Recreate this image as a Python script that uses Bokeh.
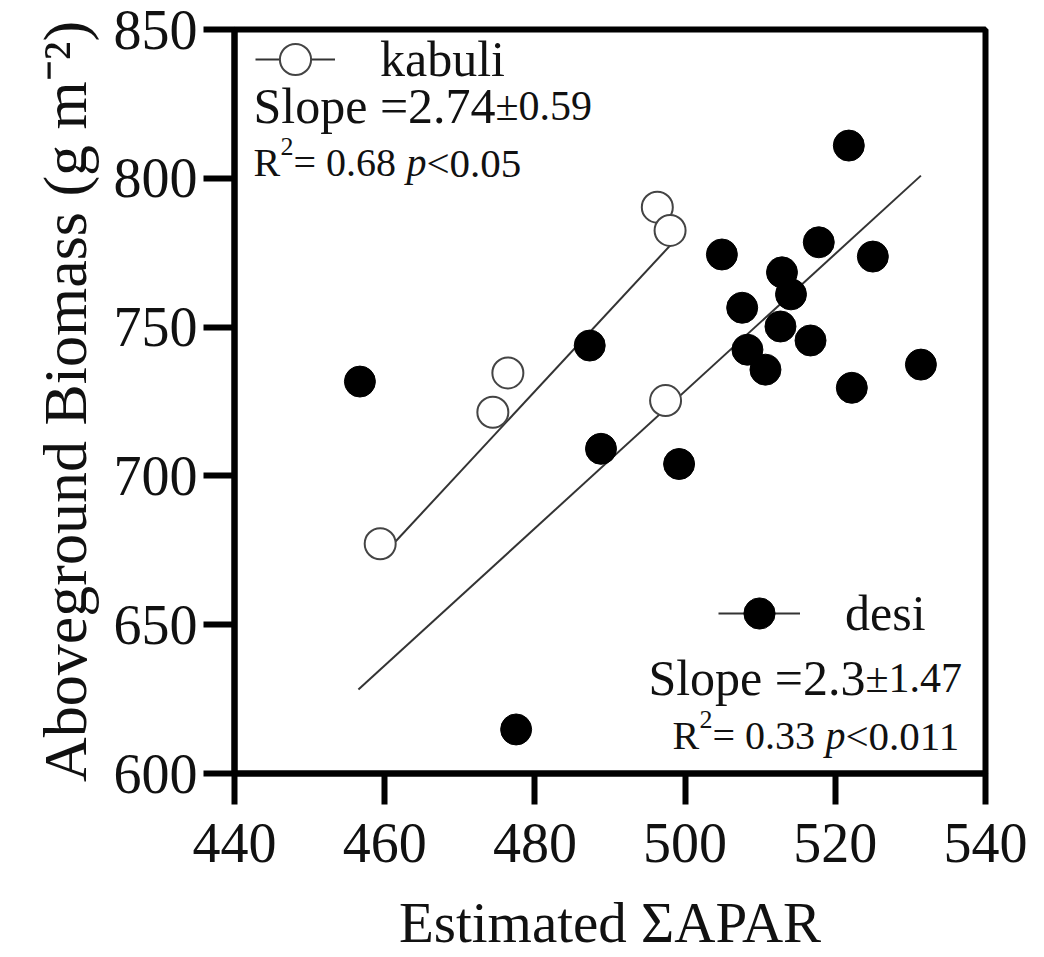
from bokeh.plotting import figure
from bokeh.models import Range1d, FixedTicker, Label, Legend, LegendItem
from bokeh.embed import file_html
from bokeh.resources import INLINE

# ---- data ----
kabuli_x = [459.4, 474.4, 476.4, 496.3, 498.0, 497.4]
kabuli_y = [677.2, 721.4, 734.6, 790.3, 782.5, 725.3]
desi_x = [456.7, 477.5, 487.3, 488.8, 499.2, 504.9, 507.6, 508.3, 510.7,
          512.7, 512.9, 514.1, 516.7, 517.8, 521.8, 522.2, 525.0, 531.4]
desi_y = [731.7, 614.8, 743.8, 709.1, 704.0, 774.4, 756.5, 742.4, 735.7,
          750.2, 768.4, 761.0, 745.5, 778.5, 811.0, 729.6, 773.7, 737.4]
kabuli_fit_x = [459.4, 498.0]
kabuli_fit_y = [672.4, 777.4]
desi_fit_x = [456.5, 531.4]
desi_fit_y = [628.2, 800.9]
x_ticks = [440, 460, 480, 500, 520, 540]
y_ticks = [600, 650, 700, 750, 800, 850]

FONT = "Liberation Serif"
INK = "#111111"

p = figure(width=1040, height=957, output_backend="svg", toolbar_location=None,
           x_range=Range1d(440, 540), y_range=Range1d(600, 850),
           min_border_left=234, min_border_right=55, min_border_top=29,
           min_border_bottom=184)
p.background_fill_color = "white"
p.border_fill_color = "white"
p.xgrid.visible = False
p.ygrid.visible = False
p.outline_line_color = "black"
p.outline_line_width = 6

for ax, ticks in ((p.xaxis[0], x_ticks), (p.yaxis[0], y_ticks)):
    ax.ticker = FixedTicker(ticks=ticks)
    ax.axis_line_width = 6
    ax.axis_line_color = "black"
    ax.major_tick_line_width = 6
    ax.major_tick_line_color = "black"
    ax.major_tick_out = 31
    ax.major_tick_in = 0
    ax.minor_tick_line_color = None
    ax.major_label_text_font = FONT
    ax.major_label_text_font_size = "56px"
    ax.major_label_text_color = INK
    ax.axis_label_text_font = FONT
    ax.axis_label_text_font_style = "normal"
    ax.axis_label_text_color = INK

p.xaxis.major_label_standoff = 19
p.yaxis.major_label_standoff = 6
p.xaxis.axis_label = "Estimated \u03a3APAR"
p.xaxis.axis_label_text_font_size = "57px"
p.xaxis.axis_label_standoff = 26
p.yaxis.axis_label = "Aboveground Biomass (g m\u207b\u00b2)"
p.yaxis.axis_label_text_font_size = "62px"
p.yaxis.axis_label_standoff = 12

# regression lines
kline = p.line(kabuli_fit_x, kabuli_fit_y, line_color="#333333", line_width=2)
dline = p.line(desi_fit_x, desi_fit_y, line_color="#333333", line_width=2)
# points
kpts = p.scatter(kabuli_x, kabuli_y, size=31, marker="circle",
                 fill_color="white", line_color="#444444", line_width=2)
dpts = p.scatter(desi_x, desi_y, size=31, marker="circle",
                 fill_color="black", line_color="black", line_width=1)

# legends (symbol + name)
def make_legend(label, rends, loc, gw):
    lg = Legend(items=[LegendItem(label=label, renderers=rends)], location=loc,
                glyph_width=gw, glyph_height=78, label_standoff=45, padding=0,
                margin=0, spacing=0, background_fill_alpha=0, border_line_alpha=0,
                label_text_font=FONT, label_text_font_size="50px",
                label_text_color=INK)
    p.add_layout(lg)

make_legend("kabuli", [kline, kpts], (21, 675), 80)
make_legend("desi", [dline, dpts], (484, 121), 82)

def lab(x, y, text, size, style="normal", align="left"):
    p.add_layout(Label(x=x, y=y, x_units="screen", y_units="screen", text=text,
                       text_font=FONT, text_font_size=f"{size}px",
                       text_font_style=style, text_color=INK,
                       text_align=align, text_baseline="alphabetic"))

# kabuli statistics
lab(19, 668, "Slope =2.74", 50)
lab(261, 668, "\u00b10.59", 42)
lab(19, 611, "R", 40)
lab(46, 627, "2", 26)
lab(59, 611, "= 0.68", 40)
lab(172, 611, "p", 40, "italic")
lab(192, 611, "<0.05", 41)

# desi statistics
lab(631, 96, "Slope =2.3", 50, align="right")
lab(631, 96, "\u00b11.47", 42)
lab(438, 38, "R", 40)
lab(465, 54, "2", 26)
lab(478, 38, "= 0.33", 40)
lab(591, 38, "p", 40, "italic")
lab(611, 38, "<0.011", 41)

open("out.html", "w").write(file_html(p, INLINE))
